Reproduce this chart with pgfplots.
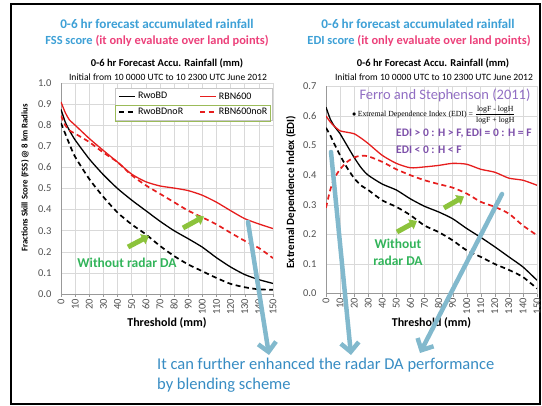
\documentclass[border=0pt]{standalone}
\usepackage{pgfplots}
\pgfplotsset{compat=1.18}
\usepackage{graphicx}
\usepackage{fontspec}
\setmainfont{Carlito}
\newfontfamily\timesf{Liberation Serif}
\usetikzlibrary{arrows.meta}
\definecolor{titleblue}{RGB}{61,160,214}
\definecolor{pinkc}{RGB}{236,64,122}
\definecolor{purp}{RGB}{125,80,170}
\definecolor{purpl}{RGB}{145,110,195}
\definecolor{greent}{RGB}{50,180,90}
\definecolor{arrblue}{RGB}{130,185,205}
\definecolor{botblue}{RGB}{55,140,195}
\definecolor{garrow}{RGB}{140,195,60}
\definecolor{redl}{RGB}{230,30,30}
\definecolor{gridg}{RGB}{217,217,217}
\definecolor{legb}{RGB}{155,187,89}
\definecolor{tickc}{RGB}{80,80,80}

\pgfplotstableread{
x a b c d
0 0.875 0.91 0.81 0.845
3 0.815 0.86 0.76 0.80
6 0.775 0.825 0.71 0.775
10 0.73 0.80 0.65 0.76
20 0.64 0.737 0.545 0.72
30 0.565 0.68 0.46 0.67
40 0.50 0.625 0.386 0.625
50 0.445 0.568 0.33 0.563
60 0.395 0.532 0.283 0.515
70 0.345 0.512 0.228 0.475
80 0.30 0.502 0.18 0.435
90 0.262 0.49 0.14 0.395
100 0.222 0.468 0.108 0.363
110 0.172 0.435 0.076 0.33
120 0.128 0.395 0.048 0.29
130 0.092 0.357 0.032 0.252
140 0.068 0.332 0.022 0.218
150 0.05 0.31 0.02 0.17
}\fss

\pgfplotstableread{
x a b c d
0 0.63 0.60 0.56 0.29
3 0.59 0.58 0.535 0.35
6 0.565 0.565 0.505 0.39
10 0.54 0.55 0.467 0.42
15 0.50 0.545 0.425 0.445
20 0.46 0.54 0.39 0.46
25 0.425 0.525 0.365 0.466
30 0.40 0.507 0.35 0.464
40 0.37 0.467 0.315 0.445
50 0.35 0.44 0.293 0.42
60 0.32 0.425 0.265 0.40
70 0.295 0.428 0.23 0.383
80 0.276 0.433 0.208 0.37
90 0.253 0.44 0.18 0.358
100 0.22 0.437 0.146 0.338
110 0.19 0.42 0.124 0.31
120 0.158 0.41 0.10 0.293
130 0.124 0.39 0.08 0.27
140 0.09 0.383 0.056 0.23
150 0.045 0.366 0.017 0.197
}\edi

\pgfplotsset{
  myaxis/.style={
    scale only axis,
    xmin=0, xmax=150, ymin=0,
    xtick={0,10,...,150},
    axis lines=left,
    axis line style={draw=gray!80, -},
    tick align=outside,
    major tick length=3pt,
    ytick style={draw=none},
    xtick style={draw=gray!80},
    grid=major,
    grid style={gridg, line width=0.5pt},
    xticklabel style={rotate=90, anchor=east, font=\fontsize{10.5}{11}\selectfont, text=tickc, inner sep=1.5pt},
    yticklabel style={font=\fontsize{10.5}{11}\selectfont, text=tickc, xshift=-3pt},
    /pgf/number format/assume math mode=true,
    yticklabel={\pgfmathprintnumber[fixed,fixed zerofill,precision=1]{\tick}},
    xticklabel={\pgfmathprintnumber{\tick}},
    xlabel={\bfseries Threshold (mm)},
    xlabel style={at={(axis description cs:0.5,0)}, anchor=center, yshift=-29pt, font=\fontsize{12}{13}\selectfont},
  },
  sblack/.style={black, line width=1.3pt, smooth, tension=0.4},
  sred/.style={redl, line width=1.3pt, smooth, tension=0.4},
  dblack/.style={black, line width=1.7pt, dash pattern=on 5pt off 3.5pt, smooth, tension=0.4},
  dred/.style={redl, line width=1.7pt, dash pattern=on 5pt off 3.5pt, smooth, tension=0.4},
}

\begin{document}
\begin{tikzpicture}
\path[use as bounding box] (0,0) rectangle (542pt,406pt);
\draw[line width=1.8pt] (11pt,2pt) rectangle (540pt,402pt);

% Left axis: FSS
\begin{axis}[myaxis,
  at={(61pt,112pt)}, anchor=south west,
  width=212pt, height=211pt,
  ymax=1.0, ytick={0,0.1,...,1.0},
  ylabel={\bfseries Fractions Skill Score (FSS) @ 8 km Radius},
  ylabel style={at={(axis description cs:-0.17,0.55)}, rotate=0, anchor=center, font=\fontsize{8.8}{9}\selectfont},
  legend columns=2,
  legend style={at={(axis description cs:0.255,0.976)}, anchor=north west,
    draw=gray!45, line width=0.6pt, fill=white, font=\fontsize{10}{11}\selectfont,
    inner xsep=3pt, inner ysep=2pt, row sep=3.5pt,
    /tikz/every even column/.append style={column sep=14pt}},
  legend cell align=left,
  legend image code/.code={\draw[#1] (0pt,0pt) -- (16pt,0pt);},
]
\addplot[sblack] table[x=x,y=a] {\fss};
\addlegendentry{RwoBD}
\addplot[sred] table[x=x,y=b] {\fss};
\addlegendentry{RBN600}
\addplot[dblack] table[x=x,y=c] {\fss};
\addlegendentry{RwoBDnoR}
\addplot[dred] table[x=x,y=d] {\fss};
\addlegendentry{RBN600noR}
\end{axis}

% Right axis: EDI
\begin{axis}[myaxis,
  at={(326pt,112.4pt)}, anchor=south west,
  width=211pt, height=207.2pt,
  ymax=0.7, ytick={0,0.1,...,0.7},
  ylabel={\bfseries Extremal Dependence Index (EDI)},
  ylabel style={at={(axis description cs:-0.166,0.49)}, rotate=0, anchor=center, font=\fontsize{11}{12}\selectfont},
]
\addplot[sblack] table[x=x,y=a] {\edi};
\addplot[sred] table[x=x,y=b] {\edi};
\addplot[dblack] table[x=x,y=c] {\edi};
\addplot[dred] table[x=x,y=d] {\edi};
\end{axis}

\begin{scope}[x=1pt,y=-1pt,shift={(0pt,406pt)}]
% legend second-row highlight
\draw[legb, line width=1pt] (115,105.5) rectangle (270,121.5);
% titles
\node[font=\bfseries\fontsize{13.2}{14}\selectfont, text=titleblue] at (157,24) {0-6 hr forecast accumulated rainfall};
\node[font=\bfseries\fontsize{12.4}{13}\selectfont] at (157,41) {\textcolor{titleblue}{FSS score} \textcolor{pinkc}{(it only evaluate over land points)}};
\node[font=\bfseries\fontsize{13.2}{14}\selectfont, text=titleblue] at (418,24) {0-6 hr forecast accumulated rainfall};
\node[font=\bfseries\fontsize{12.4}{13}\selectfont] at (419,41) {\textcolor{titleblue}{EDI score} \textcolor{pinkc}{(it only evaluate over land points)}};
% chart titles
\node[font=\bfseries\fontsize{10.5}{11}\selectfont] at (167,63) {0-6 hr Forecast Accu. Rainfall (mm)};
\node[font=\fontsize{9.6}{10}\selectfont] at (168,77) {Initial from 10 0000 UTC to 10 2300 UTC June 2012};
\node[font=\bfseries\fontsize{10.5}{11}\selectfont] at (433,63) {0-6 hr Forecast Accu. Rainfall (mm)};
\node[font=\fontsize{9.6}{10}\selectfont] at (434,77) {Initial from 10 0000 UTC to 10 2300 UTC June 2012};
% right annotations
\node[font=\fontsize{14.5}{15}\selectfont, text=purpl, inner sep=0pt] at (445,95) {Ferro and Stephenson (2011)};
\node[font=\timesf\fontsize{7.8}{8}\selectfont, anchor=west, inner sep=0pt] at (352,115) {$\bullet$\,Extremal Dependence Index (EDI) = $\displaystyle\frac{\mbox{logF - logH}}{\mbox{logF + logH}}$};
\node[font=\bfseries\fontsize{11.5}{12}\selectfont, text=purp, anchor=west, inner sep=0pt] at (396,134) {EDI > 0 : H > F, EDI = 0 : H = F};
\node[font=\bfseries\fontsize{11.5}{12}\selectfont, text=purp, anchor=west, inner sep=0pt] at (396,150) {EDI < 0 : H < F};
% without radar DA
\node[font=\bfseries\fontsize{13.5}{14}\selectfont, text=greent] at (127,263) {Without radar DA};
\node[font=\bfseries\fontsize{13.5}{14}\selectfont, text=greent] at (398,244) {Without};
\node[font=\bfseries\fontsize{13.5}{14}\selectfont, text=greent] at (398,261) {radar DA};
% green arrows
\foreach \a/\b/\c/\d in {128/247/149/236, 183/228/204/216.5, 397/232/417/221, 444/208/464/196.5}{
  \draw[garrow, line width=5pt, -{Triangle[width=11pt,length=7pt]}] (\a,\b) -- (\c,\d);
}
% blue arrows
\foreach \a/\b/\c/\d in {248/222/269/355, 331/152/351/355, 502/194/420/353}{
  \draw[arrblue, line width=4.5pt, line cap=round, -{Straight Barb[length=9pt,width=18pt,line width=4.5pt]}] (\a,\b) -- (\c,\d);
}
% bottom text
\node[font=\fontsize{16.5}{18}\selectfont, text=botblue, anchor=base west, inner sep=0pt] at (157,370) {It can further enhanced the radar DA performance};
\node[font=\fontsize{16.5}{18}\selectfont, text=botblue, anchor=base west, inner sep=0pt] at (157,390) {by blending scheme};
\end{scope}
\end{tikzpicture}
\end{document}
